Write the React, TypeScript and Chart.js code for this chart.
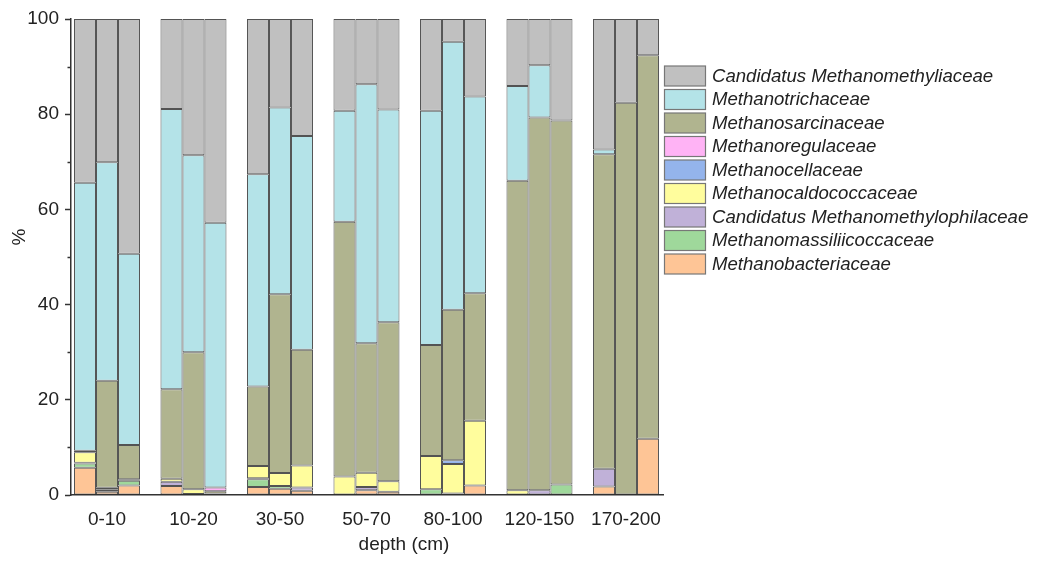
import React, { useEffect, useRef } from 'react';
import { Chart, registerables } from 'chart.js';

Chart.register(...registerables);

// ---------- data ----------
const depths = ['0-10', '10-20', '30-50', '50-70', '80-100', '120-150', '170-200'];
const replicates = ['a', 'b', 'c'];
const yTickValues = [0, 20, 40, 60, 80, 100];
const yMinorTickValues = [10, 30, 50, 70, 90];

// 21 values each: three replicate bars (a, b, c) per depth, in depth order
const methanobacteriaceae = [5.7, 0.7, 2.0, 1.9, 0.2, 0.3, 1.7, 1.3, 0.9, 0, 1.0, 0.7, 0, 0, 2.0, 0, 0, 0, 1.8, 0, 11.8];
const methanomassiliicoccaceae = [0.9, 0, 1.0, 0, 0, 0, 1.6, 0.6, 0, 0, 0, 0, 1.2, 0.3, 0, 0, 0, 2.2, 0, 0, 0];
const methanomethylophilaceae = [0.2, 0.4, 0, 0.9, 0, 0, 0.2, 0, 0.7, 0, 0.7, 0, 0, 0, 0, 0, 1.0, 0, 3.7, 0, 0];
const methanocaldococcaceae = [2.2, 0, 0.3, 0.6, 1.0, 0.5, 2.6, 2.7, 4.6, 3.9, 3.0, 2.2, 7.0, 6.2, 13.6, 1.0, 0, 0, 0, 0, 0];
const methanocellaceae = [0, 0, 0, 0, 0, 0, 0, 0, 0, 0, 0, 0, 0, 0.8, 0, 0, 0, 0, 0, 0, 0];
const methanoregulaceae = [0, 0.4, 0, 0, 0, 0.8, 0, 0, 0, 0, 0, 0, 0, 0, 0, 0, 0, 0, 0, 0, 0];
const methanosarcinaceae = [0.3, 22.5, 7.2, 18.8, 28.8, 0, 16.7, 37.6, 24.3, 53.5, 27.2, 33.4, 23.3, 31.6, 26.8, 65.0, 78.3, 76.5, 66.1, 82.4, 80.6];
const methanotrichaceae = [56.3, 45.9, 40.2, 58.9, 41.4, 55.6, 44.6, 39.2, 44.9, 23.3, 54.4, 44.7, 49.2, 56.3, 41.3, 19.9, 11.0, 0, 1.0, 0, 0];
const methanomethyliaceae = [34.4, 30.1, 49.3, 18.9, 28.6, 42.8, 32.6, 18.6, 24.6, 19.3, 13.7, 19.0, 19.3, 4.8, 16.3, 14.1, 9.7, 21.3, 27.4, 17.6, 7.6];

// stacking order, bottom to top
const families = [
  { name: 'Methanobacteriaceae', values: methanobacteriaceae, color: '#fec596' },
  { name: 'Methanomassiliicoccaceae', values: methanomassiliicoccaceae, color: '#9fd89b' },
  { name: 'Candidatus Methanomethylophilaceae', values: methanomethylophilaceae, color: '#c0b1d8' },
  { name: 'Methanocaldococcaceae', values: methanocaldococcaceae, color: '#fffd9d' },
  { name: 'Methanocellaceae', values: methanocellaceae, color: '#94b4ec' },
  { name: 'Methanoregulaceae', values: methanoregulaceae, color: '#ffb3f5' },
  { name: 'Methanosarcinaceae', values: methanosarcinaceae, color: '#b0b48f' },
  { name: 'Methanotrichaceae', values: methanotrichaceae, color: '#b4e3e8' },
  { name: 'Candidatus Methanomethyliaceae', values: methanomethyliaceae, color: '#c0c0c0' },
];

const FONT = '"Liberation Sans", Arial, Helvetica, sans-serif';
const TEXT = '#222222';
const AXIS = '#333333';

const extrasPlugin = {
  id: 'extras',
  afterDraw(chart: any) {
    const ctx = chart.ctx;
    const y = chart.scales.y;
    const area = chart.chartArea;
    ctx.save();
    // minor y ticks
    ctx.strokeStyle = AXIS;
    ctx.lineWidth = 1.5;
    yMinorTickValues.forEach((v) => {
      const py = Math.round(y.getPixelForValue(v)) + 0.5;
      ctx.beginPath();
      ctx.moveTo(area.left - 3.5, py);
      ctx.lineTo(area.left, py);
      ctx.stroke();
    });
    // axis titles
    ctx.fillStyle = TEXT;
    ctx.font = `19px ${FONT}`;
    ctx.textAlign = 'center';
    ctx.textBaseline = 'middle';
    ctx.fillText('depth (cm)', 404, 545);
    ctx.save();
    ctx.translate(20, 237);
    ctx.rotate(-Math.PI / 2);
    ctx.fillText('%', 0, 0);
    ctx.restore();
    // legend (top to bottom = reverse stacking order)
    const legendItems = families.slice().reverse();
    ctx.font = `italic 18.6px ${FONT}`;
    ctx.textAlign = 'left';
    ctx.textBaseline = 'middle';
    legendItems.forEach((f, k) => {
      const top = 66 + k * 23.5;
      ctx.fillStyle = f.color;
      ctx.fillRect(664.5, top, 41, 20);
      ctx.strokeStyle = '#777777';
      ctx.lineWidth = 1.2;
      ctx.strokeRect(664.5, top, 41, 20);
      ctx.fillStyle = TEXT;
      ctx.fillText(f.name, 712, top + 10.5);
    });
    ctx.restore();
  },
};

export default function App() {
  const canvasRef = useRef<HTMLCanvasElement | null>(null);

  useEffect(() => {
    document.body.style.margin = '0';
    const canvas = canvasRef.current;
    if (!canvas) return;

    const datasets: any[] = [];
    replicates.forEach((rep, s) => {
      families.forEach((f) => {
        datasets.push({
          label: f.name,
          stack: rep,
          data: depths.map((_, i) => {
            const v = f.values[i * 3 + s];
            return { x: i, y: v === 0 ? null : v };
          }),
          backgroundColor: f.color,
          borderColor: 'rgba(40,40,40,0.8)',
          borderWidth: 1,
          borderSkipped: false,
          inflateAmount: 0,
          categoryPercentage: 0.763,
          barPercentage: 1.0,
        });
      });
    });

    const chart = new Chart(canvas, {
      type: 'bar',
      data: { datasets },
      plugins: [extrasPlugin],
      options: {
        animation: false,
        responsive: false,
        maintainAspectRatio: false,
        layout: { padding: { left: 0, right: 375, top: 19, bottom: 0 } },
        plugins: {
          legend: { display: false },
          tooltip: { enabled: false },
          title: { display: false },
        },
        scales: {
          x: {
            type: 'linear',
            offset: false,
            stacked: true,
            min: -0.416,
            max: 6.428,
            afterBuildTicks: (scale: any) => {
              scale.ticks = depths.map((_, i) => ({ value: i }));
            },
            afterFit: (scale: any) => {
              scale.height = 66;
            },
            ticks: {
              autoSkip: false,
              maxRotation: 0,
              minRotation: 0,
              padding: 13,
              color: TEXT,
              font: { family: FONT, size: 19 },
              callback: (v: any) => depths[Math.round(Number(v))] ?? '',
            },
            grid: { display: false, drawTicks: false, offset: false },
            border: { display: true, color: AXIS, width: 1.5 },
          },
          y: {
            stacked: true,
            min: 0,
            max: 100,
            afterBuildTicks: (scale: any) => {
              scale.ticks = yTickValues.map((v) => ({ value: v }));
            },
            afterFit: (scale: any) => {
              scale.width = 71;
            },
            ticks: {
              padding: 6,
              color: TEXT,
              font: { family: FONT, size: 19 },
            },
            grid: {
              drawOnChartArea: false,
              drawTicks: true,
              tickLength: 6,
              tickColor: AXIS,
              tickWidth: 1.5,
            },
            border: { display: true, color: AXIS, width: 1.5 },
          },
        },
      },
    } as any);

    return () => {
      chart.destroy();
    };
  }, []);

  return (
    <div style={{ width: 1038, height: 561, position: 'relative' }}>
      <canvas ref={canvasRef} width={1038} height={561} style={{ display: 'block' }} />
    </div>
  );
}
